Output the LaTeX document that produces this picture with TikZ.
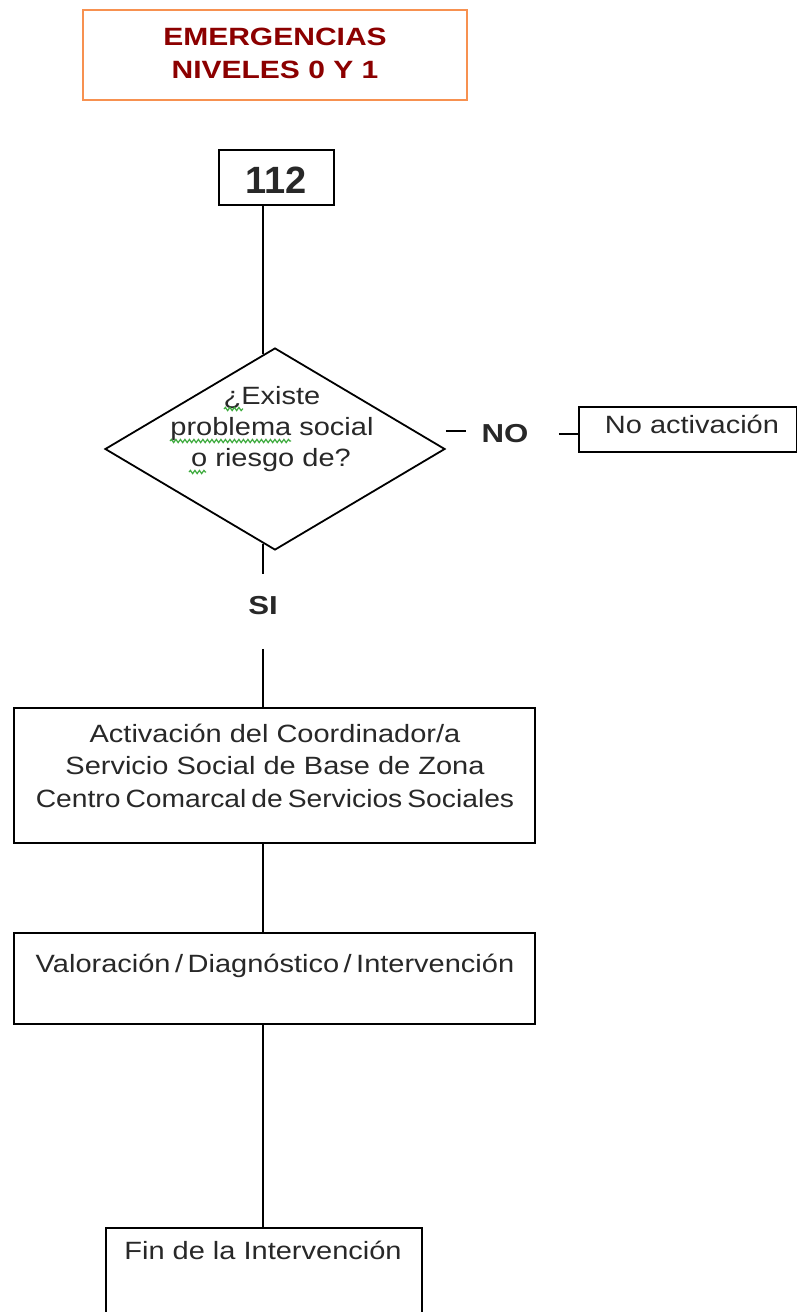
\documentclass[tikz,border=0pt]{standalone}
\usepackage{fontspec}
\setmainfont{Liberation Sans}
\newfontfamily\wf[FakeStretch=1.16]{Liberation Sans}
\newfontfamily\wn[FakeStretch=1.13]{Liberation Sans}
\newfontfamily\wb[FakeStretch=1.2]{Liberation Sans}
\usetikzlibrary{shapes.geometric,decorations.pathmorphing}
\definecolor{org}{RGB}{247,145,80}
\definecolor{tred}{RGB}{140,0,0}
\definecolor{ink}{RGB}{40,40,40}
\definecolor{squig}{RGB}{60,170,60}
\begin{document}
\begin{tikzpicture}[x=1pt,y=-1pt,line width=1.8pt,
  box/.style={draw,rectangle,inner sep=0pt,outer sep=0pt,anchor=north west},
  txt/.style={font=\wf\fontsize{25}{28}\selectfont,text=ink,anchor=base,inner sep=0pt},
  ttl/.style={font=\wb\bfseries\fontsize{25}{30}\selectfont,text=tred,anchor=base,inner sep=0pt},
  lbl/.style={font=\wb\bfseries\fontsize{26}{28}\selectfont,text=ink,inner sep=0pt},
  sq/.style={draw=squig,line width=1.2pt,decorate,decoration={snake,amplitude=1.6pt,segment length=4.5pt}}]
\useasboundingbox (0,0) rectangle (797,1312);
\fill[white] (0,0) rectangle (797,1312);
% title
\node[box,draw=org,line width=2.6pt,minimum width=384pt,minimum height=90pt] (title) at (83,10) {};
\node[ttl] (t1) at (275,45) {EMERGENCIAS};
\node[ttl] (t2) at (275,78) {NIVELES 0 Y 1};
% 112
\node[box,minimum width=115pt,minimum height=55pt] (b112) at (219,150) {};
\node[font=\bfseries\fontsize{38}{40}\selectfont,text=ink,anchor=base,inner sep=0pt] (n112) at (276,193) {112};
% spine
\coordinate (sp) at (263,0);
% diamond
\node[draw,diamond,inner sep=0pt,minimum width=340pt,minimum height=202pt] (dia) at (275,449) {};
\node[txt] (q1) at (272,404) {¿Existe};
\node[txt] (q2) at (272,435) {problema social};
\node[txt] (q3) at (271,466) {o riesgo de?};
\draw[sq] (224,409) -- (243,409);
\draw[sq] (170,441) -- (291,441);
\draw[sq] (189,472) -- (206,472);
\draw[shorten >=-7pt] (b112.south -| sp) -- (dia.north -| sp);
% NO branch
\node[lbl,minimum width=76pt,minimum height=10pt] (no) at (505,434) {NO};
\node[box,minimum width=218pt,minimum height=45pt] (noact) at (579,407) {};
\node[txt] (noactt) at (692,433) {No activación};
\draw ([yshift=3pt]dia.east |- no) -- ([yshift=3pt]no.west);
\draw[shorten <=15pt] (no.east) -- (noact.west |- no);
% SI
\node[lbl,minimum height=62pt] (si) at (263,606) {SI};
\draw[shorten <=-7pt] (dia.south -| sp) -- (si.north);
% boxes
\node[box,minimum width=521pt,minimum height=135pt] (act) at (14,708) {};
\node[txt] (a1) at (275,742) {Activación del Coordinador/a};
\node[txt] (a2) at (275,774.5) {Servicio Social de Base de Zona};
\node[txt,font=\wn\fontsize{25}{28}\selectfont] (a3) at (275,807) {\spaceskip=0.2em Centro Comarcal de Servicios Sociales};
\draw[shorten <=11pt] (si.south) -- (act.north -| sp);
\node[box,minimum width=521pt,minimum height=91pt] (val) at (14,933) {};
\node[txt] (v1) at (275,972) {\spaceskip=0.18em Valoración / Diagnóstico / Intervención};
\draw (act.south -| sp) -- (val.north -| sp);
\node[box,minimum width=316pt,minimum height=120pt] (fin) at (106,1228) {};
\node[txt] (f1) at (263,1259) {Fin de la Intervención};
\draw (val.south -| sp) -- (fin.north -| sp);
\end{tikzpicture}
\end{document}
